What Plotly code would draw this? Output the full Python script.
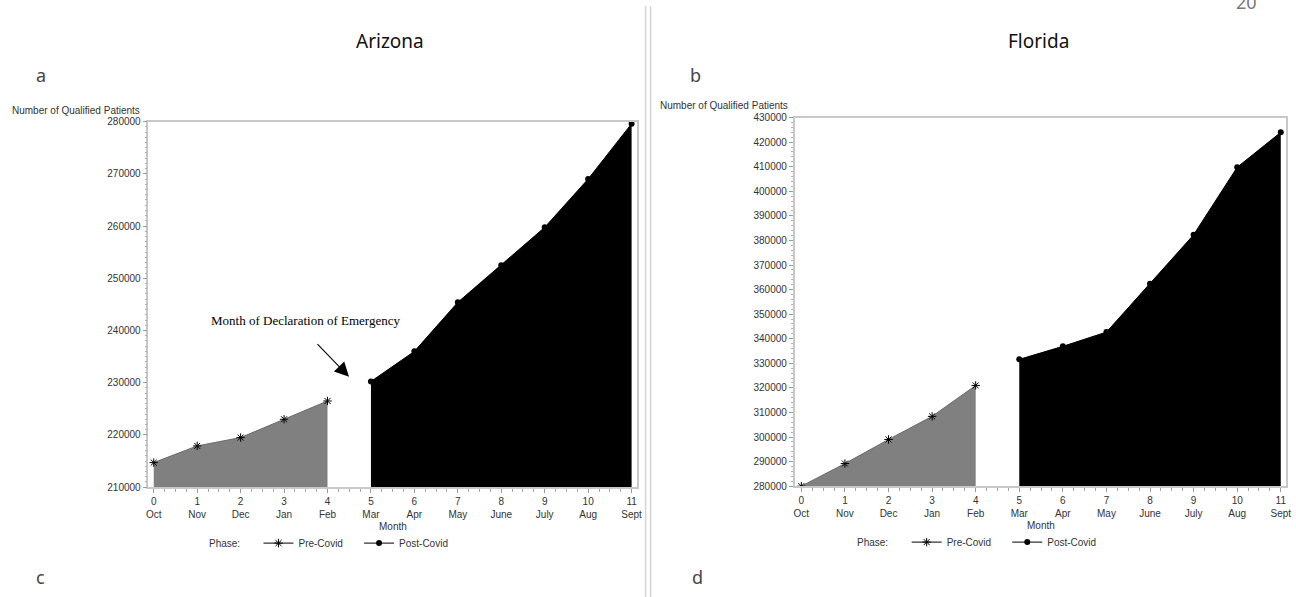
import plotly.graph_objects as go

# ---------------- data ----------------
month_idx = list(range(12))
month_names = ["Oct", "Nov", "Dec", "Jan", "Feb", "Mar", "Apr", "May", "June", "July", "Aug", "Sept"]
pre_idx = month_idx[:5]
post_idx = month_idx[5:]

az_pre = [214700, 217900, 219500, 223000, 226500]
az_post = [230250, 236000, 245400, 252500, 259750, 269000, 279600]
fl_pre = [280000, 289200, 299000, 308400, 321000]
fl_post = [331600, 336900, 342700, 362400, 382300, 409800, 424000]

az_yticks = list(range(210000, 280001, 10000))
fl_yticks = list(range(280000, 430001, 10000))
tick_text = [f"{i}<br>{m}" for i, m in zip(month_idx, month_names)]

W, H = 1296, 597
# layout helpers: convert target pixel positions to paper fractions
SX, BX = 0.9943, 1.6
SY, BY = 0.981, 5.3
def px(x):
    return ((x - BX) / SX) / W
def py(y):
    return 1 - ((y - BY) / SY) / H

SANS = "Liberation Sans, Arial, sans-serif"
TITLEF = "Noto Sans, Open Sans, sans-serif"

fig = go.Figure()

def add_panel(pre, post, xa, ya, legend):
    fig.add_trace(go.Scatter(
        x=pre_idx, y=pre, xaxis=xa, yaxis=ya, mode="lines+markers",
        fill="tozeroy", fillcolor="#808080",
        line=dict(color="#6a6a6a", width=1),
        marker=dict(symbol="asterisk-open", size=7, color="black",
                    line=dict(color="black", width=1)),
        showlegend=False, hoverinfo="x+y"))
    fig.add_trace(go.Scatter(
        x=post_idx, y=post, xaxis=xa, yaxis=ya, mode="lines+markers",
        fill="tozeroy", fillcolor="black",
        line=dict(color="black", width=1),
        marker=dict(symbol="circle", size=6, color="black"),
        showlegend=False, hoverinfo="x+y"))
    # legend entries
    fig.add_trace(go.Scatter(
        x=[None], y=[None], xaxis=xa, yaxis=ya, mode="lines+markers",
        name="Pre-Covid    ", legend=legend,
        line=dict(color="black", width=1),
        marker=dict(symbol="asterisk-open", size=7, color="black",
                    line=dict(color="black", width=1))))
    fig.add_trace(go.Scatter(
        x=[None], y=[None], xaxis=xa, yaxis=ya, mode="lines+markers",
        name="Post-Covid", legend=legend,
        line=dict(color="black", width=1),
        marker=dict(symbol="circle", size=6, color="black")))

add_panel(az_pre, az_post, "x", "y", "legend")
add_panel(fl_pre, fl_post, "x2", "y2", "legend2")

axis_common = dict(
    showline=True, linecolor="#c8c8c8", linewidth=1.5, mirror=True,
    showgrid=False, zeroline=False, ticks="outside", ticklen=4,
    tickcolor="#9a9a9a", tickfont=dict(family=SANS, size=10, color="#333333"),
)

xaxis_common = dict(axis_common, tickmode="array", tickvals=month_idx, ticktext=tick_text,
                    minor=dict(ticks="outside", ticklen=3, tickcolor="#a8a8a8", dtick=0.25,
                               tick0=0))

yaxis_common = dict(axis_common, tickmode="array", tickformat="d")

legend_common = dict(orientation="h", xanchor="left", yanchor="middle",
                     font=dict(family=SANS, size=10, color="#333333"),
                     bgcolor="rgba(0,0,0,0)", itemwidth=30, tracegroupgap=0)

fig.update_layout(
    width=W, height=H, margin=dict(l=0, r=0, t=0, b=0),
    paper_bgcolor="white", plot_bgcolor="white",
    xaxis=dict(xaxis_common, domain=[px(148), px(636.7)], range=[-0.122, 11.131], anchor="y"),
    yaxis=dict(yaxis_common, domain=[py(487), py(121)], range=[210000, 280000],
               tickvals=az_yticks, anchor="x",
               minor=dict(ticks="outside", ticklen=2, tickcolor="#b0b0b0", dtick=1000)),
    xaxis2=dict(xaxis_common, domain=[px(794), px(1285.7)], range=[-0.154, 11.131], anchor="y2"),
    yaxis2=dict(yaxis_common, domain=[py(486), py(117)], range=[280000, 430000],
                tickvals=fl_yticks, anchor="x2",
                minor=dict(ticks="outside", ticklen=2, tickcolor="#b0b0b0", dtick=2000)),
    legend=dict(legend_common, x=px(258), y=py(543)),
    legend2=dict(legend_common, x=px(906), y=py(542)),
)

def label(text, x, y, size=10, color="#333333", family=SANS, xanchor="center"):
    return dict(text=text, x=px(x), y=py(y), xref="paper", yref="paper", showarrow=False,
                font=dict(family=family, size=size, color=color),
                xanchor=xanchor, yanchor="middle")

annotations = [
    label("Arizona", 389.7, 40, 19, "#111111", TITLEF),
    label("Florida", 1038, 40, 19, "#111111", TITLEF),
    label("a", 40.5, 74, 18, "#444444", TITLEF),
    label("b", 695, 74, 18, "#444444", TITLEF),
    label("c", 40.5, 577, 18, "#444444", TITLEF),
    label("d", 697, 577, 18, "#444444", TITLEF),
    label("20", 1246, 1, 18, "#777777", TITLEF),
    label("Number of Qualified Patients", 142, 110, xanchor="right"),
    label("Number of Qualified Patients", 789, 105, xanchor="right"),
    label("Month", 392, 526),
    label("Month", 1040.5, 525),
    label("Phase:", 224, 543),
    label("Phase:", 872, 542),
    dict(text="Month of Declaration of Emergency", x=3.486, y=241880, xref="x", yref="y",
         showarrow=False, font=dict(family="Liberation Serif, DejaVu Serif, serif", size=13,
                                    color="black"),
         xanchor="center", yanchor="middle"),
    dict(text="", x=4.495, y=231150, xref="x", yref="y", showarrow=True,
         ax=-33, ay=-34, axref="pixel", ayref="pixel", arrowhead=2, arrowsize=2.6,
         arrowwidth=1.1, arrowcolor="black", standoff=0),
]
fig.update_layout(annotations=annotations)

# separator double line
for xs in (645, 650):
    fig.add_shape(type="line", xref="paper", yref="paper", x0=px(xs), x1=px(xs),
                  y0=py(597), y1=py(5), line=dict(color="#d4d4d4", width=1.5))

fig.write_html(
    "out.html",
    config={"displayModeBar": False},
    post_script=(
        "document.documentElement.style.margin='0';"
        "document.documentElement.style.height='597px';"
        "document.documentElement.style.overflow='hidden';"
        "document.body.style.margin='0';"
        "document.body.style.height='597px';"
        "document.body.style.overflow='hidden';"
    ),
)
